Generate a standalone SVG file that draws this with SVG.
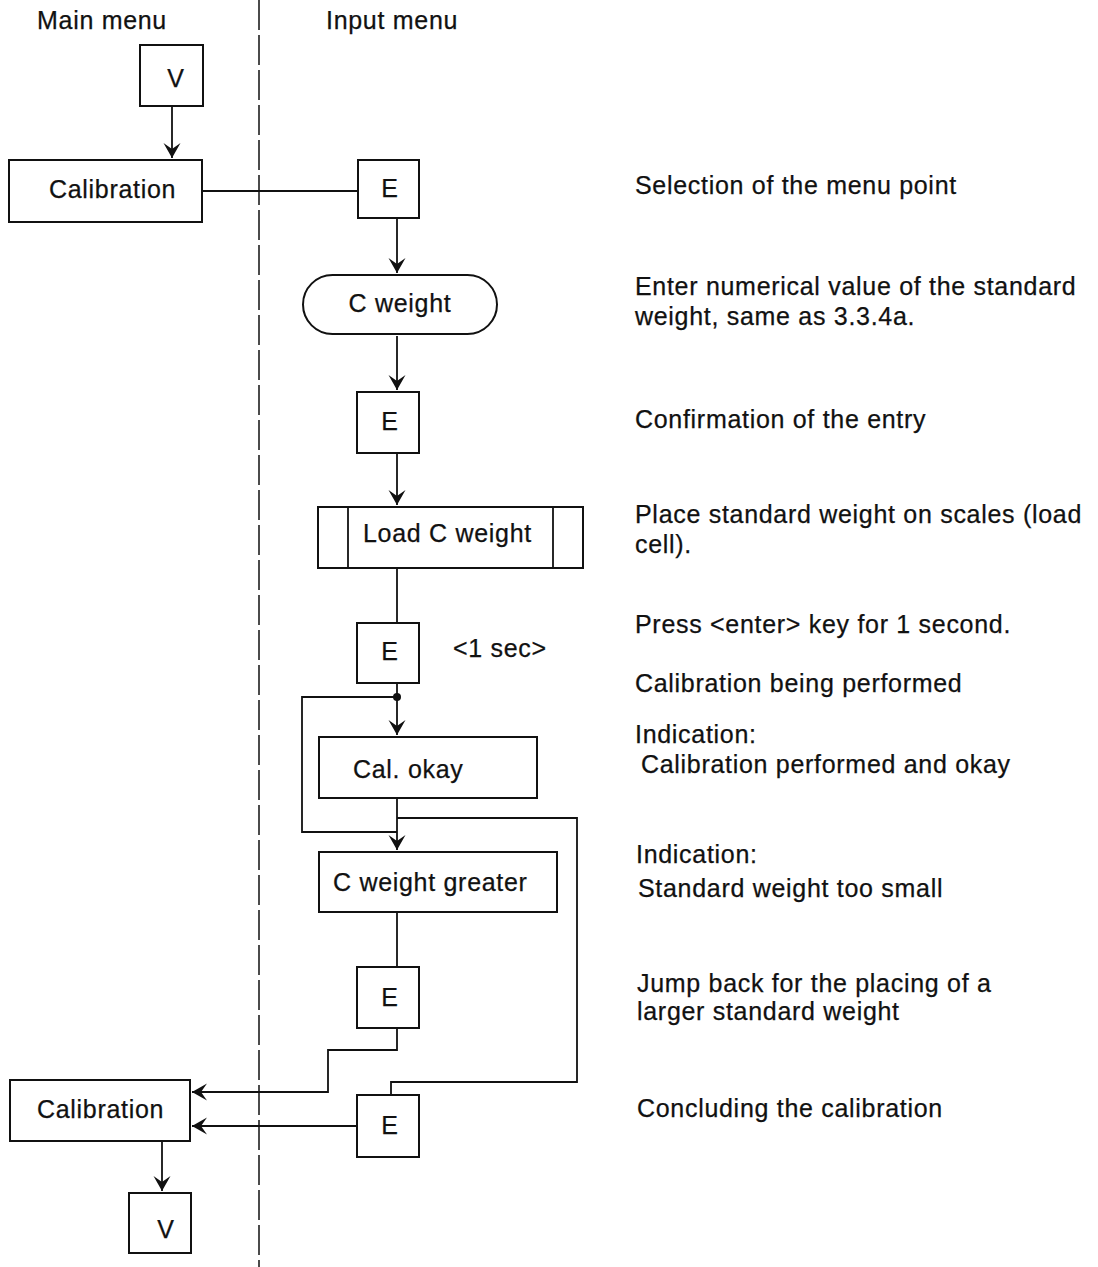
<svg xmlns="http://www.w3.org/2000/svg" width="1098" height="1267" viewBox="0 0 1098 1267">
  <style>
    text { font-family: "Liberation Sans", Arial, Helvetica, sans-serif; font-size: 25px; letter-spacing: 0.7px; fill: #111; stroke: #111; stroke-width: 0.25; }
    .box { fill: #fff; stroke: #111; stroke-width: 2; }
    .ln { fill: none; stroke: #111; stroke-width: 1.8; }
    .arr { fill: none; stroke: #111; stroke-width: 1.8; marker-end: url(#ah); }
    .mid { text-anchor: middle; }
  </style>
  <defs>
    <marker id="ah" viewBox="-16 -9 17 18" refX="0" refY="0" markerWidth="17" markerHeight="18" markerUnits="userSpaceOnUse" orient="auto">
      <path d="M0,0 L-15,-8.5 L-9,0 L-15,8.5 Z" fill="#111"/>
    </marker>
  </defs>
  <rect width="1098" height="1267" fill="#fff"/>

  <!-- column headers and divider -->
  <text x="37" y="29">Main menu</text>
  <text x="326" y="29">Input menu</text>
  <line x1="259" y1="0" x2="259" y2="1267" stroke="#111" stroke-width="1.5" stroke-dasharray="30 5"/>

  <!-- connectors -->
  <g id="connectors">
    <line class="arr" x1="172" y1="106" x2="172" y2="158"/>
    <line class="ln" x1="202" y1="191" x2="358" y2="191"/>
    <line class="arr" x1="397" y1="218" x2="397" y2="273"/>
    <line class="arr" x1="397" y1="336" x2="397" y2="390"/>
    <line class="arr" x1="397" y1="453" x2="397" y2="505"/>
    <line class="ln" x1="397" y1="568" x2="397" y2="623"/>
    <line class="ln" x1="397" y1="683" x2="397" y2="697"/>
    <circle cx="397" cy="697" r="4" fill="#111"/>
    <line class="arr" x1="397" y1="697" x2="397" y2="735"/>
    <path class="ln" d="M397,697 H302 V832 H397"/>
    <line class="arr" x1="397" y1="798" x2="397" y2="850"/>
    <path class="ln" d="M397,818 H577 V1082 H391 V1095"/>
    <line class="ln" x1="397" y1="912" x2="397" y2="967"/>
    <path class="arr" d="M397,1028 V1050 H328 V1092 H192"/>
    <line class="arr" x1="357" y1="1126" x2="192" y2="1126"/>
    <line class="arr" x1="162" y1="1141" x2="162" y2="1191"/>
  </g>

  <!-- nodes -->
  <g id="v-top">
    <rect class="box" x="140" y="45" width="63" height="61"/>
    <text class="mid" x="176" y="87">V</text>
  </g>
  <g id="calibration-top">
    <rect class="box" x="9" y="160" width="193" height="62"/>
    <text x="49" y="198">Calibration</text>
  </g>
  <g id="e-select">
    <rect class="box" x="358" y="160" width="61" height="58"/>
    <text class="mid" x="390" y="197">E</text>
  </g>
  <g id="c-weight">
    <rect class="box" x="303" y="275" width="194" height="59" rx="29.5" ry="29.5"/>
    <text class="mid" x="400" y="312">C weight</text>
  </g>
  <g id="e-confirm">
    <rect class="box" x="357" y="392" width="62" height="61"/>
    <text class="mid" x="390" y="430">E</text>
  </g>
  <g id="load-c-weight">
    <rect class="box" x="318" y="507" width="265" height="61"/>
    <line class="ln" x1="348" y1="507" x2="348" y2="568"/>
    <line class="ln" x1="553" y1="507" x2="553" y2="568"/>
    <text x="363" y="542">Load C weight</text>
  </g>
  <g id="e-press">
    <rect class="box" x="357" y="623" width="62" height="60"/>
    <text class="mid" x="390" y="660">E</text>
    <text x="453" y="657">&lt;1 sec&gt;</text>
  </g>
  <g id="cal-okay">
    <rect class="box" x="319" y="737" width="218" height="61"/>
    <text x="353" y="778">Cal. okay</text>
  </g>
  <g id="c-weight-greater">
    <rect class="box" x="319" y="852" width="238" height="60"/>
    <text x="333" y="891">C weight greater</text>
  </g>
  <g id="e-jump">
    <rect class="box" x="357" y="967" width="62" height="61"/>
    <text class="mid" x="390" y="1006">E</text>
  </g>
  <g id="e-conclude">
    <rect class="box" x="357" y="1095" width="62" height="62"/>
    <text class="mid" x="390" y="1134">E</text>
  </g>
  <g id="calibration-bottom">
    <rect class="box" x="10" y="1080" width="180" height="61"/>
    <text x="37" y="1118">Calibration</text>
  </g>
  <g id="v-bottom">
    <rect class="box" x="129" y="1193" width="62" height="60"/>
    <text class="mid" x="166" y="1238">V</text>
  </g>

  <!-- step descriptions -->
  <g id="notes">
    <text x="635" y="194">Selection of the menu point</text>
    <text x="635" y="295">Enter numerical value of the standard</text>
    <text x="635" y="325">weight, same as 3.3.4a.</text>
    <text x="635" y="428">Confirmation of the entry</text>
    <text x="635" y="523">Place standard weight on scales (load</text>
    <text x="635" y="553">cell).</text>
    <text x="635" y="633">Press &lt;enter&gt; key for 1 second.</text>
    <text x="635" y="692">Calibration being performed</text>
    <text x="635" y="743">Indication:</text>
    <text x="641" y="773">Calibration performed and okay</text>
    <text x="636" y="863">Indication:</text>
    <text x="638" y="897">Standard weight too small</text>
    <text x="637" y="992">Jump back for the placing of a</text>
    <text x="637" y="1020">larger standard weight</text>
    <text x="637" y="1117">Concluding the calibration</text>
  </g>
</svg>
